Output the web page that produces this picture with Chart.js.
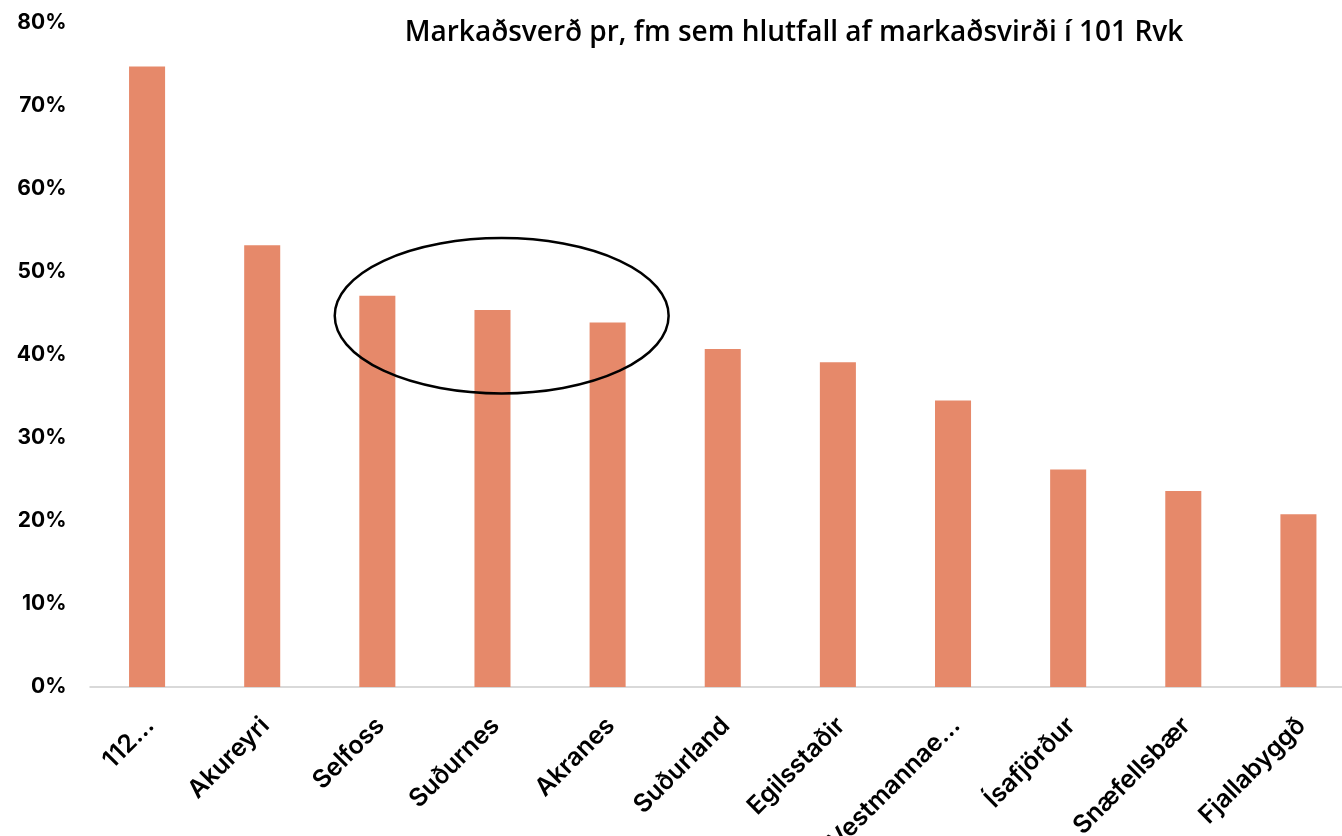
<!DOCTYPE html>
<html>
<head>
<meta charset="utf-8">
<script src="https://cdn.jsdelivr.net/npm/chart.js@4.4.1/dist/chart.umd.min.js"></script>
<style>
  html, body { margin: 0; padding: 0; background: #fff; overflow: hidden; }
  #wrap { position: relative; width: 1356px; height: 913px; margin-top: -13px; }
</style>
</head>
<body>
<div id="wrap"><canvas id="c" width="1356" height="913"></canvas></div>
<script>
const categories = ["112…", "Akureyri", "Selfoss", "Suðurnes", "Akranes", "Suðurland", "Egilsstaðir", "Vestmannae…", "Ísafjörður", "Snæfellsbær", "Fjallabyggð"];
const values = [74.7, 53.2, 47.1, 45.4, 43.9, 40.7, 39.1, 34.5, 26.2, 23.6, 20.8];
const yTicks = [0, 10, 20, 30, 40, 50, 60, 70, 80];
const titleText = "Markaðsverð pr, fm sem hlutfall af markaðsvirði í 101 Rvk";
// highlight ellipse, in data units (category index / percent)
const highlight = { xCenter: 3.08, yCenter: 44.7, xRadius: 1.45, yRadius: 9.35 };

const ellipsePlugin = {
  id: 'ellipse',
  afterDatasetsDraw(chart) {
    const { ctx, scales: { x, y } } = chart;
    const step = x.getPixelForValue(1) - x.getPixelForValue(0);
    const cx = x.getPixelForValue(0) + highlight.xCenter * step;
    const cy = y.getPixelForValue(highlight.yCenter);
    const rx = highlight.xRadius * step;
    const ry = Math.abs(y.getPixelForValue(highlight.yCenter + highlight.yRadius) - cy);
    ctx.save();
    ctx.beginPath();
    ctx.ellipse(cx, cy, rx, ry, 0, 0, Math.PI * 2);
    ctx.lineWidth = 2.5;
    ctx.strokeStyle = '#000';
    ctx.stroke();
    ctx.restore();
  }
};

const titlePlugin = {
  id: 'customTitle',
  afterDraw(chart) {
    const { ctx } = chart;
    ctx.save();
    ctx.font = '600 28px "Open Sans"';
    ctx.fillStyle = '#000';
    ctx.textAlign = 'center';
    ctx.textBaseline = 'middle';
    ctx.fillText(titleText, 794, 46);
    ctx.restore();
  }
};

const axisLinePlugin = {
  id: 'axisLine',
  beforeDatasetsDraw(chart) {
    const { ctx, chartArea, scales: { y } } = chart;
    const y0 = y.getPixelForValue(0);
    ctx.save();
    ctx.strokeStyle = '#d9d9d9';
    ctx.lineWidth = 2;
    ctx.beginPath();
    ctx.moveTo(chartArea.left, y0);
    ctx.lineTo(chartArea.right, y0);
    ctx.stroke();
    ctx.restore();
  }
};

new Chart(document.getElementById('c'), {
  type: 'bar',
  data: {
    labels: categories,
    datasets: [{
      data: values,
      backgroundColor: '#E6896A',
      borderWidth: 0,
      categoryPercentage: 1,
      barPercentage: 0.313
    }]
  },
  options: {
    responsive: false,
    animation: false,
    devicePixelRatio: 1,
    layout: { padding: { top: 8, right: 0, left: 0, bottom: 0 } },
    plugins: { legend: { display: false }, title: { display: false }, tooltip: { enabled: false } },
    scales: {
      x: {
        grid: { display: false, drawTicks: false },
        border: { display: false },
        ticks: {
          color: '#000',
          font: { family: 'Inter', size: 25, weight: '600' },
          minRotation: 45, maxRotation: 45,
          autoSkip: false,
          padding: 24,
          labelOffset: 3
        },
        afterFit(scale) { scale.height = 213; }
      },
      y: {
        min: 0, max: 80,
        grid: { display: false, drawTicks: false },
        border: { display: false },
        afterBuildTicks(scale) { scale.ticks = yTicks.map(v => ({ value: v })); },
        ticks: {
          color: '#000',
          font: { family: 'Inter', size: 21, weight: '700' },
          padding: 23,
          callback: v => v + '%'
        },
        afterFit(scale) { scale.width = 89.5; }
      }
    }
  },
  plugins: [axisLinePlugin, ellipsePlugin, titlePlugin]
});
</script>
</body>
</html>
